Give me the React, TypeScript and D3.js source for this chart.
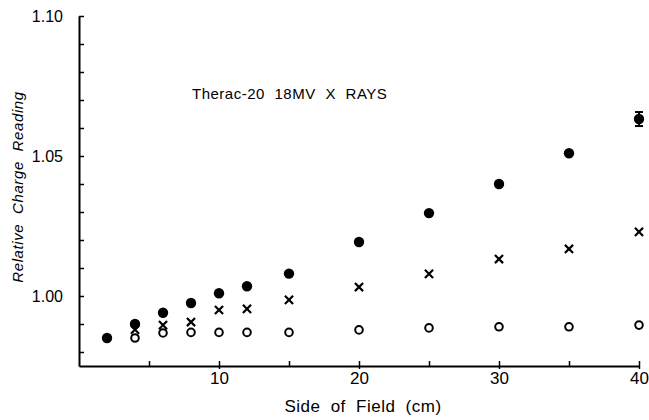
import React, { useEffect, useRef } from "react";
import * as d3 from "d3";

// field sizes (cm)
const sizes = [2, 4, 6, 8, 10, 12, 15, 20, 25, 30, 35, 40];
const filledVals = [0.985, 0.990, 0.994, 0.9975, 1.001, 1.0035, 1.008, 1.0193, 1.0296, 1.040, 1.051, 1.0632];
const crossVals = [null, 0.988, 0.9896, 0.9907, 0.995, 0.9954, 0.9986, 1.0032, 1.0079, 1.0132, 1.0168, 1.0229];
const openVals = [null, 0.985, 0.9868, 0.987, 0.987, 0.987, 0.987, 0.9879, 0.9886, 0.989, 0.989, 0.9896];
const errLast = 0.0025;

const yMinorTicks = d3.range(0.98, 1.1001, 0.01);
const yLabelTicks = [1.0, 1.05, 1.1];
const xMinorTicks = [5, 10, 15, 20, 25, 30, 35, 40];
const xLabelTicks = [10, 20, 30, 40];

const W = 649;
const H = 420;
const font = "'Liberation Sans', Arial, sans-serif";

const App: React.FC = () => {
  const svgRef = useRef<SVGSVGElement>(null);

  useEffect(() => {
    const svg = d3.select(svgRef.current!);
    svg.selectAll("*").remove();

    const x = d3.scaleLinear().domain([0, 40]).range([79, 639]);
    const y = d3.scaleLinear().domain([0.975, 1.1]).range([366, 16]);

    // y axis
    const yMinor: any = d3.axisRight(y).tickValues(yMinorTicks).tickSize(5).tickSizeOuter(0).tickFormat(() => "");
    const gy = svg.append("g").attr("transform", `translate(${x(0)},0)`).call(yMinor);
    const yLab: any = d3.axisLeft(y).tickValues(yLabelTicks).tickSize(0).tickPadding(16).tickFormat(d3.format(".2f"));
    const gyl = svg.append("g").attr("transform", `translate(${x(0)},0)`).call(yLab);
    gyl.select(".domain").remove();

    // x axis
    const xMinor: any = d3.axisTop(x).tickValues(xMinorTicks).tickSize(5).tickSizeOuter(0).tickFormat(() => "");
    const gx = svg.append("g").attr("transform", `translate(0,${y(0.975)})`).call(xMinor);
    const xLab: any = d3.axisBottom(x).tickValues(xLabelTicks).tickSize(3).tickPadding(3).tickFormat(d3.format("d"));
    const gxl = svg.append("g").attr("transform", `translate(0,${y(0.975)})`).call(xLab);
    gxl.select(".domain").remove();

    [gy, gx].forEach((g) => {
      g.select(".domain").attr("stroke", "#000").attr("stroke-width", 2);
      g.selectAll(".tick line").attr("stroke", "#000").attr("stroke-width", 1.5);
    });
    gxl.selectAll(".tick line").attr("stroke", "#000").attr("stroke-width", 1.5);
    gyl.selectAll("text").attr("font-family", font).attr("font-size", 16).attr("fill", "#000");
    gxl.selectAll("text").attr("font-family", font).attr("font-size", 17).attr("fill", "#000");

    // open circles
    svg
      .append("g")
      .selectAll("circle")
      .data(sizes.map((s, i) => [s, openVals[i]]).filter((d) => d[1] != null))
      .join("circle")
      .attr("cx", (d: any) => x(d[0]))
      .attr("cy", (d: any) => y(d[1]))
      .attr("r", 3.8)
      .attr("fill", "#fff")
      .attr("stroke", "#000")
      .attr("stroke-width", 2);

    // crosses
    const cross = d3.symbol().type(d3.symbolX).size(45);
    svg
      .append("g")
      .selectAll("path")
      .data(sizes.map((s, i) => [s, crossVals[i]]).filter((d) => d[1] != null))
      .join("path")
      .attr("d", cross as any)
      .attr("transform", (d: any) => `translate(${x(d[0])},${y(d[1])})`)
      .attr("fill", "none")
      .attr("stroke", "#000")
      .attr("stroke-width", 2.2);

    // error bar on last filled point
    const last = sizes.length - 1;
    const ex = x(sizes[last]);
    const eTop = y(filledVals[last] + errLast);
    const eBot = y(filledVals[last] - errLast);
    const eg = svg.append("g").attr("stroke", "#000").attr("stroke-width", 2);
    eg.append("line").attr("x1", ex).attr("x2", ex).attr("y1", eTop).attr("y2", eBot);
    eg.append("line").attr("x1", ex - 4).attr("x2", ex + 4).attr("y1", eTop).attr("y2", eTop);
    eg.append("line").attr("x1", ex - 4).attr("x2", ex + 4).attr("y1", eBot).attr("y2", eBot);

    // filled circles
    svg
      .append("g")
      .selectAll("circle")
      .data(sizes.map((s, i) => [s, filledVals[i]]))
      .join("circle")
      .attr("cx", (d: any) => x(d[0]))
      .attr("cy", (d: any) => y(d[1]))
      .attr("r", 5.2)
      .attr("fill", "#000");

    // labels
    svg
      .append("text")
      .attr("x", 192)
      .attr("y", 99)
      .attr("font-family", font)
      .attr("font-size", 15)
      .attr("letter-spacing", 0.5)
      .attr("word-spacing", 5)
      .text("Therac-20 18MV X RAYS");

    svg
      .append("text")
      .attr("x", 363)
      .attr("y", 412)
      .attr("text-anchor", "middle")
      .attr("font-family", font)
      .attr("font-size", 17)
      .attr("letter-spacing", 0.5)
      .attr("word-spacing", 5)
      .text("Side of Field (cm)");

    svg
      .append("text")
      .attr("transform", "translate(23,187) rotate(-90)")
      .attr("text-anchor", "middle")
      .attr("font-family", font)
      .attr("font-size", 15)
      .attr("font-style", "italic")
      .attr("word-spacing", 5)
      .attr("letter-spacing", 0.6)
      .text("Relative Charge Reading");
  }, []);

  return (
    <svg
      ref={svgRef}
      width={W}
      height={H}
      style={{ position: "absolute", left: 0, top: 0, background: "#fff" }}
    />
  );
};

export default App;
